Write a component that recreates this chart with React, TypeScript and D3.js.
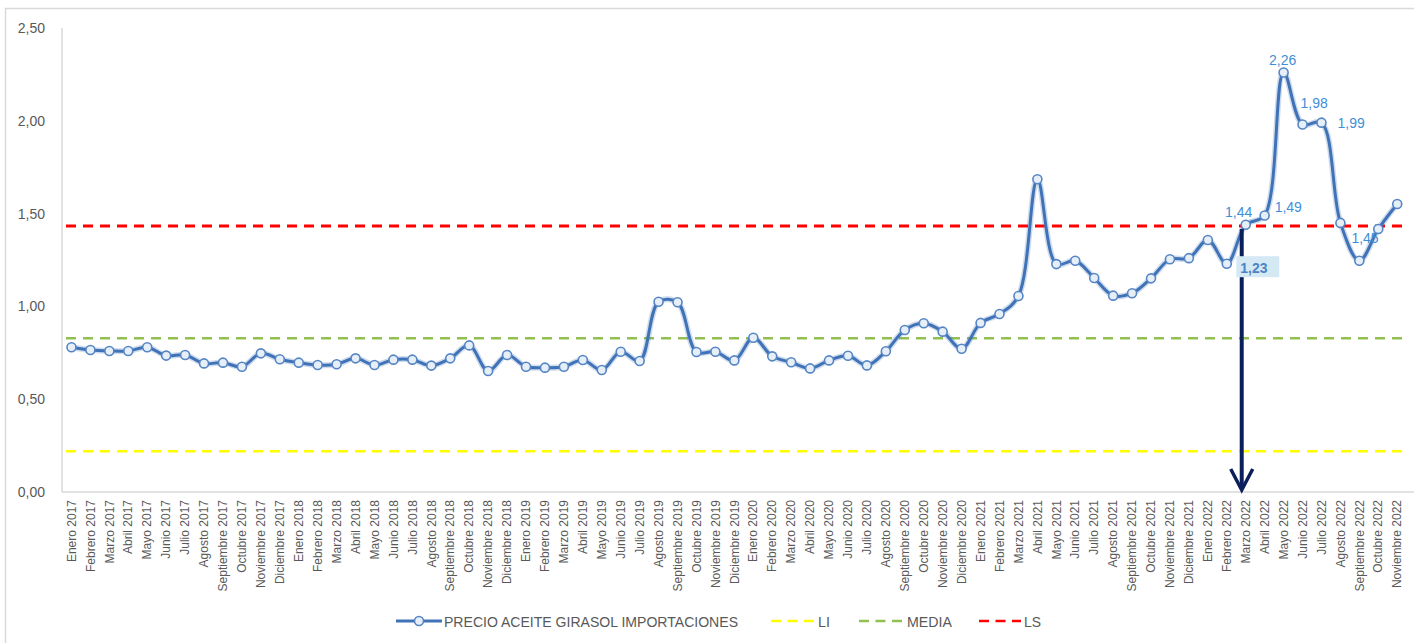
import React from "react";
import * as d3 from "d3";

const MONTHS = ["Enero","Febrero","Marzo","Abril","Mayo","Junio","Julio","Agosto","Septiembre","Octubre","Noviembre","Diciembre"];
const YEARS = [2017, 2018, 2019, 2020, 2021, 2022];
const LAST_MONTH_2022 = 11; // Noviembre

const categories: string[] = [];
YEARS.forEach((yr) => {
  MONTHS.forEach((m, i) => {
    if (yr === 2022 && i >= LAST_MONTH_2022) return;
    categories.push(`${m} ${yr}`);
  });
});

const precio = [
  0.78, 0.765, 0.76, 0.76, 0.78, 0.735, 0.738, 0.693, 0.697, 0.675, 0.747, 0.715,
  0.697, 0.684, 0.688, 0.72, 0.684, 0.713, 0.713, 0.681, 0.72, 0.79, 0.652, 0.738,
  0.675, 0.67, 0.675, 0.711, 0.657, 0.756, 0.706, 1.025, 1.022, 0.754, 0.756, 0.709,
  0.831, 0.731, 0.699, 0.666, 0.709, 0.734, 0.682, 0.758, 0.873, 0.909, 0.864, 0.772,
  0.911, 0.959, 1.056, 1.685, 1.228, 1.246, 1.153, 1.058, 1.071, 1.151, 1.254, 1.26,
  1.358, 1.23, 1.44, 1.49, 2.26, 1.98, 1.99, 1.45, 1.246, 1.417, 1.552,
];

const LI = 0.219;
const MEDIA = 0.828;
const LS = 1.433;

const yTicks = [0, 0.5, 1.0, 1.5, 2.0, 2.5];

// indices of points with data labels
const labeledIdx = [61, 62, 63, 64, 65, 66, 67];
const highlightIdx = 61;
const arrowIdx = 62;

const fmt = (v: number) => v.toFixed(2).replace(".", ",");

// label placement (style only)
const labelPlacement: Record<number, { dx: number; dy: number; anchor: string }> = {
  61: { dx: 13.5, dy: 9.5, anchor: "start" },
  62: { dx: 6.5, dy: -7.7, anchor: "end" },
  63: { dx: 10, dy: -3.5, anchor: "start" },
  64: { dx: -1, dy: -7.5, anchor: "middle" },
  65: { dx: -2, dy: -16.5, anchor: "start" },
  66: { dx: 16, dy: 5, anchor: "start" },
  67: { dx: 11, dy: 20, anchor: "start" },
};

const W = 1414;
const H = 643;
const left = 62;
const right = 1406.7;
const top = 28;
const bottom = 492;

export default function App() {
  const x = d3.scaleBand<string>().domain(categories).range([left, right]).padding(0);
  const cx = (i: number) => (x(categories[i]) as number) + x.bandwidth() / 2;
  const y = d3.scaleLinear().domain([0, 2.5]).range([bottom, top]);

  const line = d3
    .line<number>()
    .x((_, i) => cx(i))
    .y((d) => y(d))
    .curve(d3.curveCatmullRom.alpha(0.5));

  const blue = "#3f72b6";
  const labelBlue = "#3f8fd8";
  const axisGray = "#d9d9d9";
  const textGray = "#595959";

  const refLines = [
    { v: LI, color: "#ffff00", w: 2.5 },
    { v: MEDIA, color: "#92c050", w: 2.5 },
    { v: LS, color: "#ff0000", w: 3 },
  ];

  const ax = cx(arrowIdx) - 4;

  return (
    <svg width={W} height={H} style={{ position: "absolute", left: 0, top: 0, background: "#fff" }}
      fontFamily="'Liberation Sans', Arial, sans-serif">
      <rect x={5.5} y={8.5} width={W + 20} height={H + 20} fill="#fff" stroke={axisGray} strokeWidth={1.5} />

      {/* y axis */}
      <line x1={left} x2={left} y1={top} y2={bottom} stroke={axisGray} strokeWidth={1.5} />
      {yTicks.map((t) => (
        <text key={t} x={45} y={y(t)} dy="0.35em" textAnchor="end" fontSize={14} fill={textGray}>
          {fmt(t)}
        </text>
      ))}

      {/* x axis */}
      <line x1={left} x2={W} y1={bottom} y2={bottom} stroke={axisGray} strokeWidth={1.5} />
      {categories.map((c, i) => (
        <text key={c} transform={`translate(${cx(i)},${bottom + 8}) rotate(-90)`} dy="0.35em"
          textAnchor="end" fontSize={12} fill={textGray}>
          {c}
        </text>
      ))}

      {/* reference lines */}
      {refLines.map((r) => (
        <line key={r.color} x1={left + 4} x2={right} y1={y(r.v)} y2={y(r.v)} stroke={r.color}
          strokeWidth={r.w} strokeDasharray="10,7" />
      ))}

      {/* series */}
      <path d={line(precio) || ""} fill="none" stroke={blue} strokeOpacity={0.25} strokeWidth={6} />
      <path d={line(precio) || ""} fill="none" stroke={blue} strokeWidth={3} />
      {precio.map((v, i) => (
        <circle key={i} cx={cx(i)} cy={y(v)} r={4.5} fill="#e6eef8" stroke="#5585c4" strokeWidth={1.6} />
      ))}

      {/* arrow */}
      <line x1={ax} x2={ax} y1={229} y2={489} stroke="#0b1f5a" strokeWidth={4} />
      <polyline points={`${ax - 11},${469} ${ax},${490} ${ax + 11},${469}`} fill="none" stroke="#0b1f5a"
        strokeWidth={3.5} strokeLinejoin="miter" />

      {/* data labels */}
      {labeledIdx.map((i) => {
        const p = labelPlacement[i];
        const tx = cx(i) + p.dx;
        const ty = y(precio[i]) + p.dy;
        if (i === highlightIdx) {
          return (
            <g key={i}>
              <rect x={tx - 4} y={ty - 17} width={43} height={21} fill="#d5e9f5" />
              <text x={tx} y={ty} fontSize={14} fill="#4a84c4" fontWeight={600}>{fmt(precio[i])}</text>
            </g>
          );
        }
        return (
          <text key={i} x={tx} y={ty} fontSize={14} fill={labelBlue} textAnchor={p.anchor}>
            {fmt(precio[i])}
          </text>
        );
      })}

      {/* legend */}
      <g>
        <line x1={396} x2={442} y1={621} y2={621} stroke={blue} strokeWidth={3} />
        <circle cx={419} cy={621} r={4.5} fill="#e6eef8" stroke="#5585c4" strokeWidth={1.6} />
        <text x={444} y={627} fontSize={15} fill={textGray} textLength={294} lengthAdjust="spacingAndGlyphs">
          PRECIO ACEITE GIRASOL IMPORTACIONES
        </text>
        <line x1={771} x2={814} y1={621} y2={621} stroke="#ffff00" strokeWidth={2.5} strokeDasharray="10,6.5" />
        <text x={818} y={627} fontSize={15} fill={textGray} textLength={12} lengthAdjust="spacingAndGlyphs">LI</text>
        <line x1={859} x2={903} y1={621} y2={621} stroke="#92c050" strokeWidth={2.5} strokeDasharray="10,6.5" />
        <text x={907} y={627} fontSize={15} fill={textGray} textLength={45} lengthAdjust="spacingAndGlyphs">MEDIA</text>
        <line x1={979} x2={1021} y1={621} y2={621} stroke="#ff0000" strokeWidth={2.5} strokeDasharray="10,6.5" />
        <text x={1024} y={627} fontSize={15} fill={textGray} textLength={17} lengthAdjust="spacingAndGlyphs">LS</text>
      </g>
    </svg>
  );
}
